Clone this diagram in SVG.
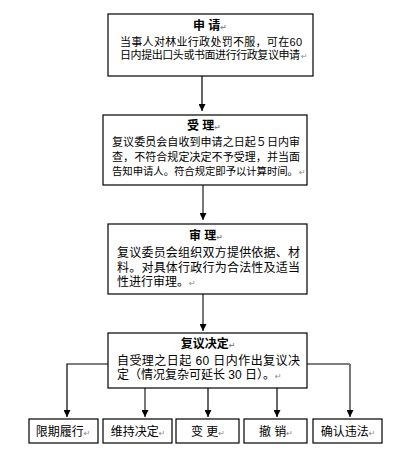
<svg xmlns="http://www.w3.org/2000/svg" width="411" height="474" viewBox="0 0 411 474">
<defs>
<marker id="arr" markerWidth="8" markerHeight="7" refX="7" refY="3.5" orient="auto" markerUnits="userSpaceOnUse">
<path d="M0,0 L7,3.5 L0,7 Z" fill="#000"/>
</marker>
<style>
.box{fill:#fff;stroke:#000;stroke-width:1.2}
.t{font-family:"Liberation Sans","Noto Sans CJK SC",sans-serif;font-size:12px;fill:#000}
.s{font-size:11px}
.xs{font-size:10.4px}
.h{font-weight:bold;text-anchor:middle}
.c{text-anchor:middle}
.pm{font-family:"DejaVu Sans",sans-serif;fill:#888;font-size:8px}
.ln{fill:none;stroke:#000;stroke-width:1.2}
.lg{fill:none;stroke:#777;stroke-width:2}
</style>
</defs>
<rect width="411" height="474" fill="#fff"/>
<g id="connectors">
<path class="ln" d="M202,76 V111" marker-end="url(#arr)"/>
<path class="lg" d="M203,185 V220" marker-end="url(#arr)"/>
<path class="lg" d="M203,294 V331" marker-end="url(#arr)"/>
<path class="ln" d="M108,364 H67 V417" marker-end="url(#arr)"/>
<path class="lg" d="M145,388 V417" marker-end="url(#arr)"/>
<path class="ln" d="M208,388 V417" marker-end="url(#arr)"/>
<path class="ln" d="M277,388 V417" marker-end="url(#arr)"/>
<path class="ln" d="M307,364 H350"/>
<path class="lg" d="M350,364 V417" marker-end="url(#arr)"/>
</g>
<g id="apply">
<rect class="box" x="108" y="14" width="205" height="62"/>
<text class="t h" x="210" y="30">申 请<tspan class="pm">↵</tspan></text>
<text class="t s" x="120" y="46" textLength="182">当事人对林业行政处罚不服，可在60</text>
<text class="t s" x="120" y="59" textLength="180">日内提出口头或书面进行行政复议申请</text>
<text class="t pm" x="301" y="59">↵</text>
</g>
<g id="accept">
<rect class="box" x="103" y="115" width="204" height="70"/>
<text class="t h" x="204" y="130">受 理<tspan class="pm">↵</tspan></text>
<text class="t s" x="112" y="146" textLength="188">复议委员会自收到申请之日起５日内审</text>
<text class="t s" x="112" y="161" textLength="188">查，不符合规定决定不予受理，并当面</text>
<text class="t xs" x="112" y="175" textLength="186">告知申请人。符合规定即予以计算时间。</text>
<text class="t pm" x="299" y="175">↵</text>
</g>
<g id="review">
<rect class="box" x="108" y="224" width="199" height="70"/>
<text class="t h" x="206" y="240">审 理<tspan class="pm">↵</tspan></text>
<text class="t" x="117" y="257" textLength="183">复议委员会组织双方提供依据、材</text>
<text class="t" x="117" y="272" textLength="183">料。对具体行政行为合法性及适当</text>
<text class="t" x="117" y="286">性进行审理。<tspan class="pm">↵</tspan></text>
</g>
<g id="decision">
<rect class="box" x="108" y="333" width="199" height="55"/>
<text class="t h" x="208" y="348">复议决定<tspan class="pm">↵</tspan></text>
<text class="t" x="117" y="365" textLength="183">自受理之日起 60 日内作出复议决</text>
<text class="t" x="117" y="379">定（情况复杂可延长 30 日）。<tspan class="pm">↵</tspan></text>
</g>
<g id="n1">
<rect class="box" x="29" y="419" width="69" height="24"/>
<text class="t c" x="63" y="436">限期履行<tspan class="pm">↵</tspan></text>
</g>
<g id="n2">
<rect class="box" x="103" y="419" width="69" height="24"/>
<text class="t c" x="138" y="436">维持决定<tspan class="pm">↵</tspan></text>
</g>
<g id="n3">
<rect class="box" x="176" y="419" width="63" height="24"/>
<text class="t c" x="208" y="436">变 更<tspan class="pm">↵</tspan></text>
</g>
<g id="n4">
<rect class="box" x="244" y="419" width="63" height="24"/>
<text class="t c" x="276" y="436">撤 销<tspan class="pm">↵</tspan></text>
</g>
<g id="n5">
<rect class="box" x="313" y="419" width="69" height="24"/>
<text class="t c" x="348" y="436">确认违法<tspan class="pm">↵</tspan></text>
</g>
</svg>
